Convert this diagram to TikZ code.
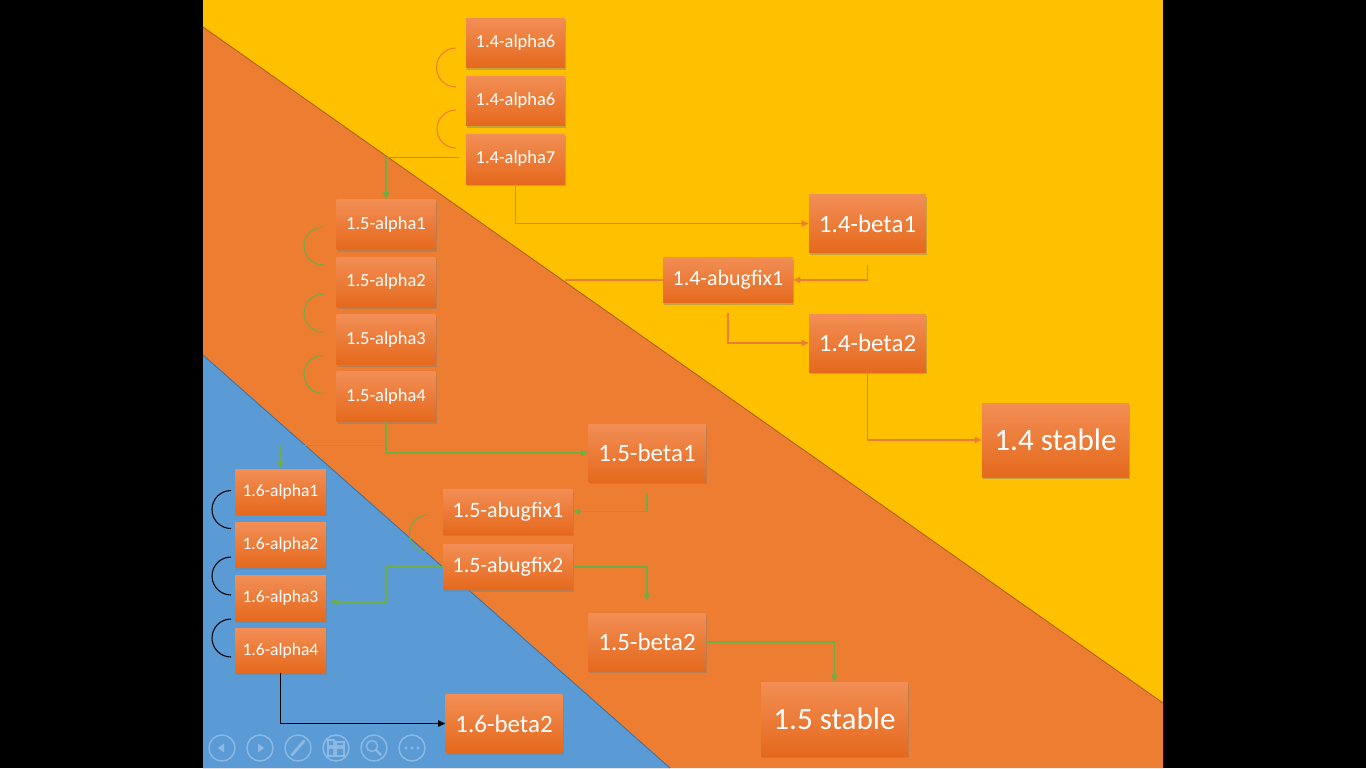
\documentclass[tikz,border=0pt]{standalone}
\usepackage{fontspec}
\setmainfont{Carlito}
\usetikzlibrary{arrows.meta, calc, shadows}
\definecolor{colorAmarillo}{HTML}{FFC000}
\definecolor{colorNaranja}{HTML}{ED7D31}
\definecolor{colorAzul}{HTML}{5B9BD5}
\definecolor{colorVerde}{HTML}{70AD47}
\definecolor{bordeNaranja}{HTML}{B0601F}
\definecolor{bordeAzul}{HTML}{41719C}
\definecolor{cajaClara}{HTML}{F28E55}
\definecolor{cajaOscura}{HTML}{E5691C}

\begin{document}
\begin{tikzpicture}[x=0.02cm, y=-0.02cm,
        caja/.style={rectangle, top color=cajaClara, bottom color=cajaOscura, text=white, inner sep=0pt,
            drop shadow={shadow xshift=0.7pt, shadow yshift=-1.3pt, opacity=0.45}},
        alfa/.style={caja, minimum width=1.98cm, minimum height=1cm, font=\fontsize{10.5}{12}\selectfont},
        alfachica/.style={caja, minimum width=1.82cm, minimum height=0.9cm, font=\fontsize{10}{12}\selectfont},
        bugfix/.style={caja, minimum width=2.6cm, minimum height=0.9cm, font=\fontsize{12.5}{14}\selectfont},
        beta/.style={caja, minimum width=2.34cm, minimum height=1.16cm, font=\fontsize{14.2}{16}\selectfont},
        estable/.style={caja, minimum width=2.94cm, minimum height=1.48cm, font=\fontsize{17.7}{20}\selectfont},
        lnar/.style={-{Triangle[length=4pt, width=3.6pt]}, colorNaranja, line width=0.6pt},
        lver/.style={-{Triangle[length=4pt, width=3.6pt]}, colorVerde, line width=0.6pt},
        lneg/.style={-{Triangle[length=4pt, width=3.6pt]}, black, line width=0.6pt},
        ctrl/.style={white, opacity=0.3, line width=0.8pt}]
        \useasboundingbox (0,0) rectangle (1366,768);
        % fondo de la diapositiva
        \fill[black] (0,0) rectangle (1366,768);
        \fill[colorAmarillo] (203,0) rectangle (1163,768);
        \fill[colorNaranja] (203,27) -- (1163,703) -- (1163,768) -- (203,768) -- cycle;
        \draw[bordeNaranja, line width=0.5pt] (203,27) -- (1163,703);
        \fill[colorAzul] (203,355) -- (670,768) -- (203,768) -- cycle;
        \draw[bordeAzul, line width=0.5pt] (203,355) -- (670,768);

        % rama 1.4
        \node[alfa] (a146a) at (515.5,43)  {1.4-alpha6};
        \node[alfa] (a146b) at (515.5,101) {1.4-alpha6};
        \node[alfa] (a147)  at (515.5,159) {1.4-alpha7};
        \node[beta] (b141)  at (867.5,223.5) {1.4-beta1};
        \node[bugfix] (f141) at (728,280)  {1.4-abugfix1};
        \node[beta] (b142)  at (867.5,343) {1.4-beta2};
        \node[estable] (s14) at (1055.5,440) {1.4 stable};

        % rama 1.5
        \node[alfa] (a151) at (386,224.5) {1.5-alpha1};
        \node[alfa] (a152) at (386,282)   {1.5-alpha2};
        \node[alfa] (a153) at (386,339.5) {1.5-alpha3};
        \node[alfa] (a154) at (386,396.5) {1.5-alpha4};
        \node[beta] (b151) at (647,453)   {1.5-beta1};
        \node[bugfix] (f151) at (508,511.5) {1.5-abugfix1};
        \node[bugfix] (f152) at (508,567)   {1.5-abugfix2};
        \node[beta] (b152) at (647,642)   {1.5-beta2};
        \node[estable] (s15) at (834.5,719) {1.5 stable};

        % rama 1.6
        \node[alfachica] (a161) at (280.5,491.5) {1.6-alpha1};
        \node[alfachica] (a162) at (280.5,545)   {1.6-alpha2};
        \node[alfachica] (a163) at (280.5,598)   {1.6-alpha3};
        \node[alfachica] (a164) at (280.5,650.5) {1.6-alpha4};
        \node[beta] (b162) at (504,723.5) {1.6-beta2};

        % conexiones 1.4
        \coordinate (c14) at (565,280);
        \draw[lnar] (a147.south) |- (b141.west);
        \draw[lnar] ($(b141.south)+(0,12)$) |- (f141.east);
        \draw[lnar, -] (f141.west) -- (c14);
        \draw[lnar] ($(f141.south)+(0,10)$) |- (b142.west);
        \draw[lnar] (b142.south) |- (s14.west);

        % conexiones 1.5
        \coordinate (j15) at ($(a154.south)+(0,24)$);
        \coordinate (t16) at ($(a163.east)+(4,4)$);
        \coordinate (t15) at ($(b152.north)+(0,-12)$);
        \draw[lver] ([xshift=-4pt, yshift=1pt]a147.west) -| (a151.north);
        \draw[lver] (a154.south) |- (b151.west);
        \draw[lver] (j15) -| (a161.north);
        \draw[lver] ($(b151.south)+(0,11)$) |- (f151.east);
        \draw[lver] (f152.west) -- ++(-56,0) |- (t16);
        \draw[lver] (f152.east) -| (t15);
        \draw[lver] (b152.east) -| (s15.north);

        % conexion 1.6
        \draw[lneg] (a164.south) |- (b162.west);

        % arcos entre alphas
        \draw[colorNaranja, line width=0.6pt] (456,87) arc[start angle=90, end angle=270, radius=19.5];
        \draw[colorNaranja, line width=0.6pt] (456,148) arc[start angle=90, end angle=270, radius=19];
        \foreach \y in {246,313,374.5}
            \draw[colorVerde, line width=0.6pt] (323,\y+19) arc[start angle=90, end angle=270, radius=19];
        \draw[colorVerde, line width=0.6pt] (428,552) arc[start angle=90, end angle=270, radius=18.5];
        \foreach \y in {509.5,576,638}
            \draw[black, line width=0.6pt] (231,\y+19) arc[start angle=90, end angle=270, radius=19];

        % controles de la presentacion
        \foreach \cx in {222,260,298,336,374,412} \draw[ctrl] (\cx,748) circle[radius=13];
        \fill[ctrl] (218,748) -- (224,743.5) -- (224,752.5) -- cycle;
        \fill[ctrl] (264,748) -- (258,743.5) -- (258,752.5) -- cycle;
        \draw[ctrl, line width=1.6pt, line cap=round] (292,755) -- (304,741);
        \draw[ctrl] (328,740) rectangle (334,746) (336,742) rectangle (344,746)
            (328,748) rectangle (334,756) (336,748) rectangle (344,756);
        \draw[ctrl] (372,746) circle[radius=5.5];
        \draw[ctrl, line width=1.4pt] (376,750) -- (381,755);
        \foreach \dx in {406,412,418} \fill[ctrl] (\dx,748) circle[radius=1.6];
    \end{tikzpicture}
\end{document}
